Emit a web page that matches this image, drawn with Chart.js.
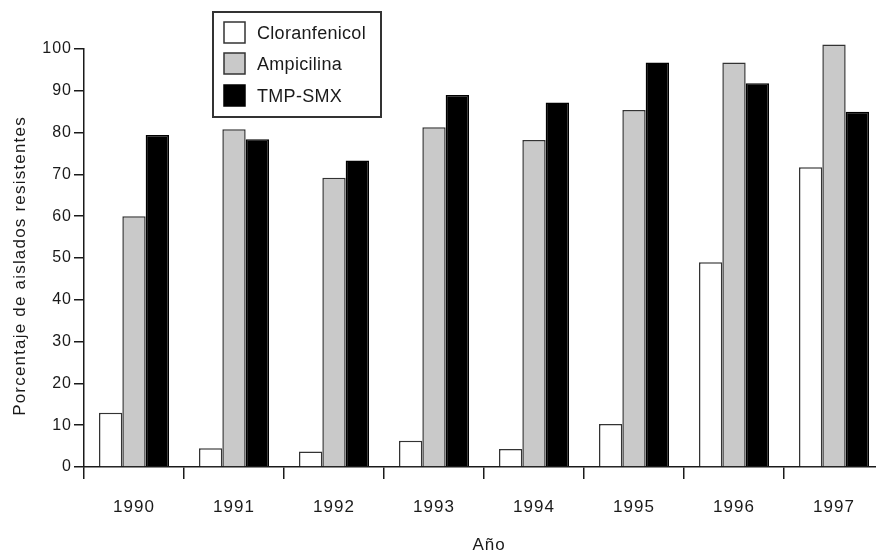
<!DOCTYPE html>
<html lang="es">
<head>
<meta charset="utf-8">
<title>Porcentaje de aislados resistentes por año</title>
<script src="https://cdn.jsdelivr.net/npm/chart.js@4/dist/chart.umd.min.js"></script>
<style>
  html, body { margin: 0; padding: 0; background: #fff; overflow: hidden; width: 876px; height: 552px; }
  #wrap { width: 900px; height: 552px; }
</style>
</head>
<body>
<div id="wrap"><canvas id="chart" width="900" height="552"></canvas></div>
<script>
// Años del estudio
const years = ['1990', '1991', '1992', '1993', '1994', '1995', '1996', '1997'];

// Porcentaje de aislados resistentes por antibiótico
const cloranfenicol = [13, 4.5, 3.7, 6.3, 4.3, 10.3, 49, 71.7];
const ampicilina = [60, 80.8, 69.2, 81.3, 78.2, 85.4, 96.8, 101.1];
const tmpSmx = [79.4, 78.4, 73.3, 89, 87.2, 96.8, 91.8, 85];

// Marcas del eje Y
const yTicks = [0, 10, 20, 30, 40, 50, 60, 70, 80, 90, 100];

const yTitle = 'Porcentaje de aislados resistentes';
const xTitle = 'Año';

const FONT = "'Liberation Sans', Arial, Helvetica, sans-serif";
const INK = '#1a1a1a';

// Espaciado de letras algo abierto, como en la tipografía original
function setSpacing(chart) {
  chart.ctx.letterSpacing = '1px';
}

// Leyenda en recuadro y títulos de los ejes
const decorations = {
  id: 'decorations',
  beforeUpdate(chart) { setSpacing(chart); },
  beforeDraw(chart) { setSpacing(chart); },
  afterDraw(chart) {
    const ctx = chart.ctx;
    const area = chart.chartArea;
    ctx.save();
    ctx.fillStyle = INK;

    // Título del eje Y
    ctx.save();
    ctx.letterSpacing = '1.2px';
    ctx.translate(20, 266);
    ctx.rotate(-Math.PI / 2);
    ctx.font = '17px ' + FONT;
    ctx.textAlign = 'center';
    ctx.textBaseline = 'middle';
    ctx.fillText(yTitle, 0, 0);
    ctx.restore();

    // Título del eje X
    ctx.letterSpacing = '1px';
    ctx.font = '17px ' + FONT;
    ctx.textAlign = 'center';
    ctx.textBaseline = 'middle';
    ctx.fillText(xTitle, (area.left + area.right) / 2 + 5, 545);

    // Recuadro de la leyenda
    const box = { x: 213, y: 12, w: 168, h: 105 };
    ctx.fillStyle = '#fff';
    ctx.fillRect(box.x, box.y, box.w, box.h);
    ctx.strokeStyle = '#333';
    ctx.lineWidth = 2;
    ctx.strokeRect(box.x, box.y, box.w, box.h);

    ctx.font = '18px ' + FONT;
    ctx.textAlign = 'left';
    ctx.letterSpacing = '0.3px';
    const rows = [33, 64, 96];
    chart.data.datasets.forEach((ds, i) => {
      const cy = rows[i];
      ctx.fillStyle = ds.backgroundColor;
      ctx.fillRect(224, cy - 11, 21, 21);
      ctx.strokeStyle = ds.borderColor;
      ctx.lineWidth = 1.5;
      ctx.strokeRect(224, cy - 11, 21, 21);
      ctx.fillStyle = INK;
      ctx.fillText(ds.label, 257, cy + 1);
    });
    ctx.restore();
  }
};

new Chart(document.getElementById('chart'), {
  type: 'bar',
  data: {
    labels: years,
    datasets: [
      { label: 'Cloranfenicol', data: cloranfenicol, backgroundColor: '#ffffff', borderColor: '#333333', borderWidth: 1.5, clip: false },
      { label: 'Ampicilina', data: ampicilina, backgroundColor: '#c9c9c9', borderColor: '#333333', borderWidth: 1.5, clip: false },
      { label: 'TMP-SMX', data: tmpSmx, backgroundColor: '#000000', borderColor: '#000000', borderWidth: 1.5, clip: false }
    ]
  },
  options: {
    responsive: false,
    animation: false,
    devicePixelRatio: 1,
    layout: { padding: { top: 49, right: 16, bottom: 0, left: 0 } },
    datasets: { bar: { categoryPercentage: 0.7, barPercentage: 1.0 } },
    plugins: {
      legend: { display: false },
      tooltip: { enabled: false },
      title: { display: false }
    },
    scales: {
      x: {
        type: 'category',
        offset: true,
        grid: {
          offset: true,
          drawOnChartArea: false,
          drawTicks: true,
          tickLength: 12,
          color: INK,
          lineWidth: 1.5
        },
        border: { display: true, color: INK, width: 1.5 },
        ticks: {
          color: INK,
          font: { family: FONT, size: 17 },
          padding: 18,
          maxRotation: 0,
          autoSkip: false
        },
        afterFit(scale) { scale.height = 85; }
      },
      y: {
        min: 0,
        max: 100,
        grid: {
          drawOnChartArea: false,
          drawTicks: true,
          tickLength: 10,
          color: INK,
          lineWidth: 1.5
        },
        border: { display: true, color: INK, width: 1.5 },
        ticks: {
          color: INK,
          font: { family: FONT, size: 16 },
          padding: 2
        },
        afterBuildTicks(scale) {
          scale.ticks = yTicks.map(v => ({ value: v }));
        },
        afterFit(scale) { scale.width = 84; }
      }
    }
  },
  plugins: [decorations]
});
</script>
</body>
</html>
